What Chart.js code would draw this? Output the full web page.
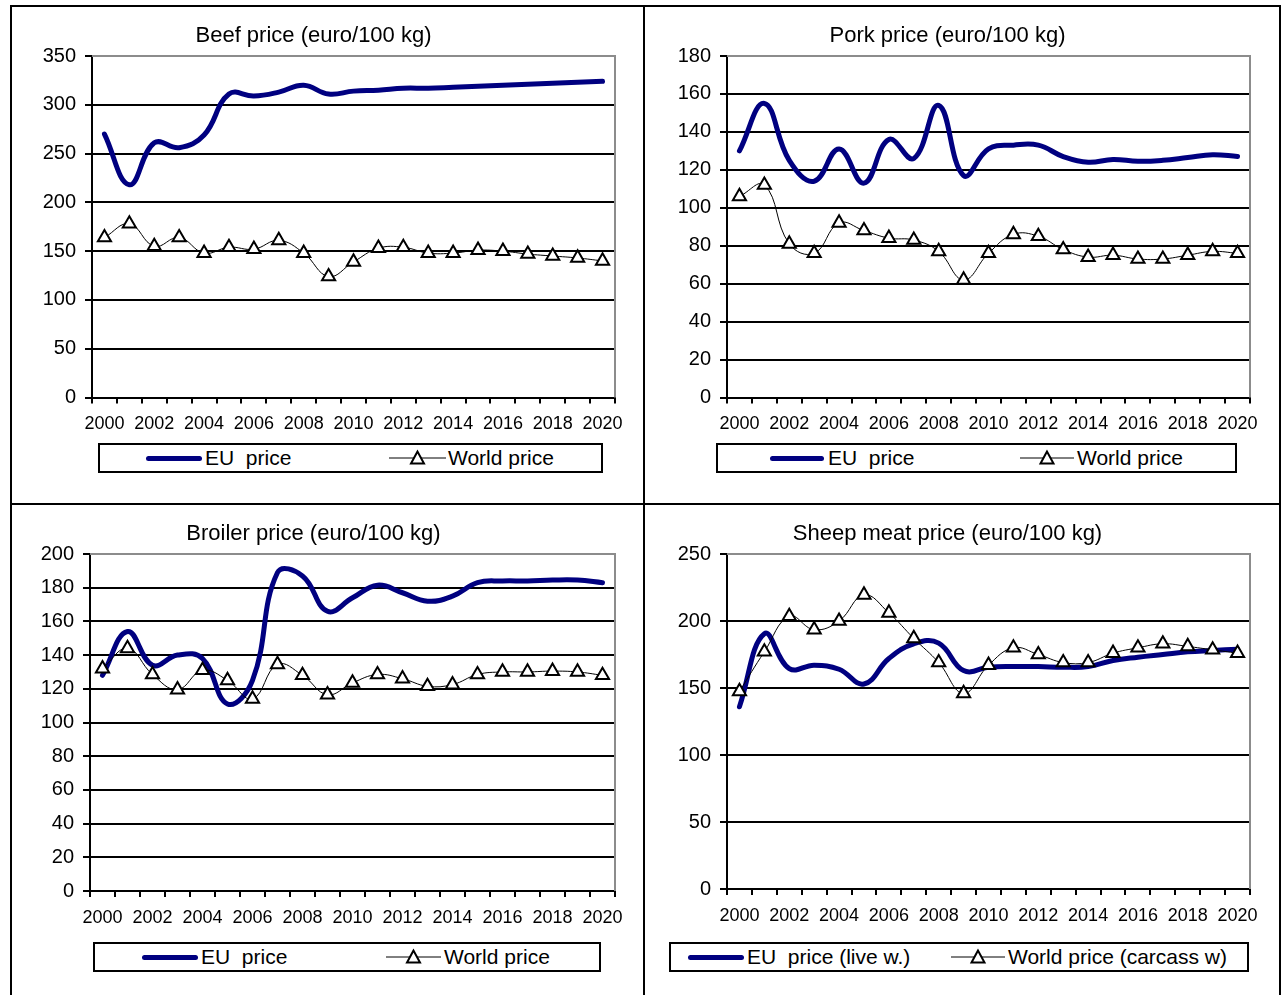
<!DOCTYPE html>
<html>
<head>
<meta charset="utf-8">
<script src="https://cdn.jsdelivr.net/npm/chart.js@4.4.1/dist/chart.umd.min.js"></script>
<style>
  html, body { margin: 0; padding: 0; background: #fff; width: 1281px; height: 995px; overflow: hidden; }
  body { position: relative; font-family: "Liberation Sans", Arial, sans-serif; color: #000; }
  .rule { position: absolute; background: #000; }
  canvas { position: absolute; }
  .legend { position: absolute; border: 2px solid #000; box-sizing: border-box; background: #fff; }
  .lg-text { position: absolute; font-size: 21px; line-height: 24px; white-space: pre; color: #000; }
  .lg-bar { position: absolute; height: 5px; background: #000080; border-radius: 2.5px; }
  .lg-svg { position: absolute; overflow: visible; }
</style>
</head>
<body>
<!-- outer frame and dividers -->
<div class="rule" style="left:10px;top:5px;width:1271px;height:2px"></div>
<div class="rule" style="left:10px;top:5px;width:2px;height:990px"></div>
<div class="rule" style="left:1279px;top:5px;width:2px;height:990px"></div>
<div class="rule" style="left:643px;top:5px;width:2px;height:990px"></div>
<div class="rule" style="left:10px;top:503px;width:1271px;height:2px"></div>

<canvas id="beef" width="631" height="496" style="left:12px;top:7px"></canvas>
<canvas id="pork" width="634" height="496" style="left:645px;top:7px"></canvas>
<canvas id="broiler" width="631" height="489" style="left:12px;top:506px"></canvas>
<canvas id="sheep" width="634" height="489" style="left:645px;top:506px"></canvas>

<script>
// Years on the category axis
const years = ['2000','2001','2002','2003','2004','2005','2006','2007','2008','2009','2010',
               '2011','2012','2013','2014','2015','2016','2017','2018','2019','2020'];

// Beef (euro/100 kg)
const beefEU    = [270, 218, 261, 256, 269, 311, 309, 313, 320, 311, 314, 315, 317, 317, 318, 319, 320, 321, 322, 323, 324];
const beefWorld = [164, 178, 155, 164, 148, 154, 152, 161, 148, 124, 139, 153, 154, 148, 148, 151, 150, 147, 145, 143, 140];

// Pork (euro/100 kg)
const porkEU    = [130, 155, 125, 114, 131, 113, 136, 126, 154, 117, 131, 133, 133, 127, 124, 125.5, 124.5, 125, 126.5, 128, 127];
const porkWorld = [106, 112, 81, 76, 92, 88, 84, 83, 77, 62, 76, 86, 85, 78, 74, 75, 73, 73, 75, 77, 76];

// Broiler (euro/100 kg)
const broilerEU    = [128, 154, 134, 140, 138, 111, 125, 189, 187, 166, 174, 181.5, 177, 172, 175, 183, 184, 184, 184.5, 184.5, 183];
const broilerWorld = [132, 144, 128.5, 119.5, 131, 125, 114, 134.5, 128, 116.5, 123.5, 128.5, 126, 121.5, 122.5, 128.5, 130, 130, 130.5, 130, 128];

// Sheep meat (euro/100 kg)
const sheepEU    = [136, 190.5, 164.5, 167, 164, 153, 172, 183, 183.5, 163, 165.5, 166, 166, 165.5, 166, 170.5, 173, 175, 177, 178, 179];
const sheepWorld = [147.5, 177, 203.5, 193.5, 200, 219.5, 206, 187, 169, 146, 167, 180, 175, 169, 169, 176, 180, 183, 181, 178.5, 176];

const FONT = '"Liberation Sans", Arial, sans-serif';
const EU_COLOR = '#000080';

// grey top/right edge of the plot area
const plotFrame = {
  id: 'plotFrame',
  beforeDatasetsDraw(chart) {
    const { ctx, chartArea: a } = chart;
    ctx.save();
    ctx.strokeStyle = '#8c8c8c';
    ctx.lineWidth = 2;
    ctx.beginPath();
    ctx.moveTo(a.left, a.top);
    ctx.lineTo(a.right, a.top);
    ctx.lineTo(a.right, a.bottom);
    ctx.stroke();
    ctx.restore();
  }
};

function drawPanel(id, title, euLabel, worldLabel, eu, world, yMax, yStep, g) {
  new Chart(document.getElementById(id), {
    type: 'line',
    data: {
      labels: years,
      datasets: [
        { label: euLabel, data: eu, borderColor: EU_COLOR, borderWidth: 5, pointRadius: 0,
          pointHoverRadius: 0, tension: 0.42, borderCapStyle: 'round', borderJoinStyle: 'round', order: 2 },
        { label: worldLabel, data: world, borderColor: '#000', borderWidth: 1, pointStyle: 'triangle',
          pointRadius: 7.6, pointHoverRadius: 7.6, pointBorderWidth: 2, pointBackgroundColor: '#fff',
          pointBorderColor: '#000', tension: 0.42, order: 1 }
      ]
    },
    options: {
      responsive: false,
      animation: false,
      events: [],
      layout: { padding: { left: 0, right: g.padRight, top: 0, bottom: g.padBottom } },
      plugins: {
        legend: { display: false },
        tooltip: { enabled: false },
        title: {
          display: true, text: title, color: '#000',
          font: { family: FONT, size: 22, weight: 'normal' },
          padding: { top: g.titleTop, bottom: g.titleBottom }
        }
      },
      scales: {
        x: {
          type: 'category',
          offset: true,
          afterFit(s) { s.height = 40; },
          grid: { offset: true, drawOnChartArea: false, drawTicks: true, tickLength: 6, color: '#000', lineWidth: 2 },
          border: { display: true, color: '#000', width: 2 },
          ticks: {
            autoSkip: false, maxRotation: 0, minRotation: 0, padding: 10, color: '#000',
            font: { family: FONT, size: 18 },
            callback(v, i) { return i % 2 === 0 ? this.getLabelForValue(v) : ''; }
          }
        },
        y: {
          min: 0, max: yMax,
          afterFit(s) { s.width = g.axisLeft; },
          grid: {
            color: (c) => (c.tick && c.tick.value === yMax) ? 'rgba(0,0,0,0)' : '#000',
            tickColor: '#000', lineWidth: 2, tickLength: 7, drawTicks: true
          },
          border: { display: true, color: '#000', width: 2 },
          ticks: { stepSize: yStep, padding: 9, color: '#000', font: { family: FONT, size: 20 } }
        }
      }
    },
    plugins: [plotFrame]
  });
}

// legend box with a thick EU line sample and a thin line + triangle sample
function addLegend(box, eu, world) {
  const b = document.createElement('div');
  b.className = 'legend';
  Object.assign(b.style, { left: box.x + 'px', top: box.y + 'px', width: box.w + 'px', height: box.h + 'px' });
  document.body.appendChild(b);
  const cy = box.y + box.h / 2;

  const bar = document.createElement('div');
  bar.className = 'lg-bar';
  Object.assign(bar.style, { left: eu.x0 + 'px', top: (cy - 2.5) + 'px', width: (eu.x1 - eu.x0) + 'px' });
  document.body.appendChild(bar);

  const t1 = document.createElement('div');
  t1.className = 'lg-text';
  t1.textContent = eu.text;
  Object.assign(t1.style, { left: eu.tx + 'px', top: (cy - 12) + 'px' });
  document.body.appendChild(t1);

  const w = world.x1 - world.x0;
  const ns = 'http://www.w3.org/2000/svg';
  const svg = document.createElementNS(ns, 'svg');
  svg.setAttribute('class', 'lg-svg');
  svg.setAttribute('width', w);
  svg.setAttribute('height', 16);
  Object.assign(svg.style, { left: world.x0 + 'px', top: (cy - 8) + 'px' });
  const ln = document.createElementNS(ns, 'line');
  ln.setAttribute('x1', 0); ln.setAttribute('x2', w); ln.setAttribute('y1', 8); ln.setAttribute('y2', 8);
  ln.setAttribute('stroke', '#000'); ln.setAttribute('stroke-width', 1);
  svg.appendChild(ln);
  const c = w / 2;
  const tri = document.createElementNS(ns, 'polygon');
  tri.setAttribute('points', `${c},${1.5} ${c - 6.5},${13.5} ${c + 6.5},${13.5}`);
  tri.setAttribute('fill', '#fff'); tri.setAttribute('stroke', '#000'); tri.setAttribute('stroke-width', 2);
  svg.appendChild(tri);
  document.body.appendChild(svg);

  const t2 = document.createElement('div');
  t2.className = 'lg-text';
  t2.textContent = world.text;
  Object.assign(t2.style, { left: world.tx + 'px', top: (cy - 12) + 'px' });
  document.body.appendChild(t2);
}

drawPanel('beef', 'Beef price (euro/100 kg)', 'EU  price', 'World price', beefEU, beefWorld, 350, 50,
  { axisLeft: 80, padRight: 28, padBottom: 65.5, titleTop: 15.8, titleBottom: 6.8 });
drawPanel('pork', 'Pork price (euro/100 kg)', 'EU  price', 'World price', porkEU, porkWorld, 180, 20,
  { axisLeft: 82, padRight: 29, padBottom: 65.5, titleTop: 15.8, titleBottom: 6.8 });
drawPanel('broiler', 'Broiler price (euro/100 kg)', 'EU  price', 'World price', broilerEU, broilerWorld, 200, 20,
  { axisLeft: 78, padRight: 28, padBottom: 64, titleTop: 14.8, titleBottom: 6.8 });
drawPanel('sheep', 'Sheep meat price (euro/100 kg)', 'EU  price (live w.)', 'World price (carcass w)', sheepEU, sheepWorld, 250, 50,
  { axisLeft: 82, padRight: 29, padBottom: 66, titleTop: 14.8, titleBottom: 6.8 });

addLegend({ x: 98, y: 443, w: 505, h: 30 },
  { x0: 146, x1: 202, tx: 205, text: 'EU  price' },
  { x0: 389, x1: 446, tx: 448, text: 'World price' });
addLegend({ x: 716, y: 443, w: 521, h: 30 },
  { x0: 770, x1: 824, tx: 828, text: 'EU  price' },
  { x0: 1020, x1: 1074, tx: 1077, text: 'World price' });
addLegend({ x: 93, y: 942, w: 508, h: 30 },
  { x0: 142, x1: 198, tx: 201, text: 'EU  price' },
  { x0: 386, x1: 441, tx: 444, text: 'World price' });
addLegend({ x: 669, y: 942, w: 580, h: 30 },
  { x0: 688, x1: 744, tx: 747, text: 'EU  price (live w.)' },
  { x0: 951, x1: 1005, tx: 1008, text: 'World price (carcass w)' });
</script>
</body>
</html>
